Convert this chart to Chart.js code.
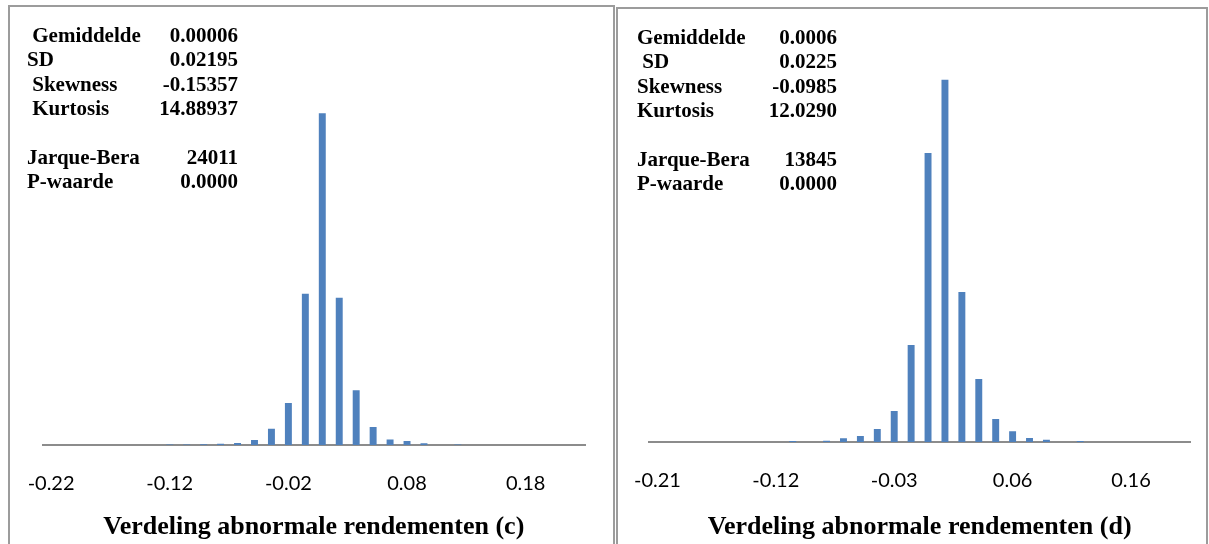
<!DOCTYPE html>
<html>
<head>
<meta charset="utf-8">
<script src="https://cdn.jsdelivr.net/npm/chart.js@4.4.1/dist/chart.umd.min.js"></script>
<style>
  html, body { margin: 0; padding: 0; background: #ffffff; }
  body { width: 1209px; height: 544px; position: relative; overflow: hidden; }
  .panel { position: absolute; box-sizing: border-box; border: 2px solid #9c9c9c; }
  #panelC { left: 8px; top: 5px; width: 607px; height: 560px; }
  #panelD { left: 616px; top: 7px; width: 592px; height: 560px; }
  canvas { position: absolute; left: 0; top: 0; }
</style>
</head>
<body>
<div class="panel" id="panelC"></div>
<div class="panel" id="panelD"></div>
<canvas id="chartC" width="1209" height="544"></canvas>
<canvas id="chartD" width="1209" height="544"></canvas>
<script>
// Histogram bins (bin labels) and frequencies, panel (c)
const binsC = ['-0.22','-0.21','-0.19','-0.18','-0.16','-0.15','-0.13','-0.12',
               '-0.11','-0.09','-0.08','-0.06','-0.05','-0.04','-0.02','-0.01',
               '0.01','0.02','0.04','0.05','0.06','0.08','0.09','0.11',
               '0.12','0.14','0.15','0.16','0.18','0.19','0.21','0.22'];
const countsC = [0, 0, 0, 0, 0, 0, 0, 3,
                 3, 4, 7, 10, 26, 85, 218, 787,
                 1726, 766, 285, 93, 28, 21, 9, 0,
                 3, 0, 0, 0, 0, 0, 0, 0];

// Histogram bins (bin labels) and frequencies, panel (d)
const binsD = ['-0.21','-0.20','-0.19','-0.17','-0.16','-0.15','-0.13','-0.12',
               '-0.11','-0.09','-0.08','-0.07','-0.05','-0.04','-0.03','-0.01',
               '0.00','0.01','0.02','0.04','0.05','0.06','0.08','0.09',
               '0.10','0.12','0.13','0.14','0.16','0.17','0.18','0.20'];
const countsD = [0, 0, 0, 0, 0, 0, 0, 0,
                 4, 0, 5, 14, 23, 50, 119, 373,
                 1112, 1393, 577, 242, 88, 41, 15, 9,
                 0, 4, 0, 0, 0, 0, 0, 0];

// Every 7th bin carries a label on the axis
const labelStep = 7;

// Descriptive statistics shown in each panel
const statNames = [' Gemiddelde', 'SD', ' Skewness', ' Kurtosis', '', 'Jarque-Bera', 'P-waarde'];
const statNamesD = ['Gemiddelde', ' SD', 'Skewness', 'Kurtosis', '', 'Jarque-Bera', 'P-waarde'];
const statsC = ['0.00006', '0.02195', '-0.15357', '14.88937', '', '24011', '0.0000'];
const statsD = ['0.0006', '0.0225', '-0.0985', '12.0290', '', '13845', '0.0000'];

const titleC = 'Verdeling abnormale rendementen (c)';
const titleD = 'Verdeling abnormale rendementen (d)';

const BAR_BLUE = '#4F81BD';
const AXIS_GREY = '#8c8c8c';

// Draws the statistics block in the upper-left corner of a panel
const statsBlock = {
  id: 'statsBlock',
  afterDraw(chart, args, o) {
    const ctx = chart.ctx;
    ctx.save();
    ctx.fillStyle = '#000';
    ctx.font = 'bold 21px "Liberation Serif", "Times New Roman", serif';
    ctx.textBaseline = 'alphabetic';
    o.names.forEach((name, i) => {
      const y = o.y0 + i * o.dy;
      ctx.textAlign = 'left';
      ctx.fillText(name, o.xName, y);
      ctx.textAlign = 'right';
      ctx.fillText(o.values[i], o.xValue, y);
    });
    ctx.restore();
  }
};

function histogram(id, bins, counts, title, opt) {
  return new Chart(document.getElementById(id), {
    type: 'bar',
    data: {
      labels: bins,
      datasets: [{
        data: counts,
        backgroundColor: BAR_BLUE,
        borderWidth: 0,
        barPercentage: 0.41,
        categoryPercentage: 1.0
      }]
    },
    options: {
      responsive: false,
      animation: false,
      events: [],
      layout: { padding: { left: opt.left, right: 1209 - opt.right, top: opt.top, bottom: 0 } },
      plugins: {
        legend: { display: false },
        tooltip: { enabled: false },
        statsBlock: opt.stats
      },
      scales: {
        x: {
          type: 'category',
          grid: { display: false, drawTicks: false },
          border: { display: true, color: AXIS_GREY, width: 2 },
          afterFit(scale) { scale.height = 544 - opt.base; },
          ticks: {
            autoSkip: false,
            maxRotation: 0,
            minRotation: 0,
            padding: opt.tickPad,
            color: '#000',
            font: { family: 'Lato, "Liberation Sans", sans-serif', size: 20 },
            callback(value, index) {
              return index % labelStep === 0 ? this.getLabelForValue(value) : '';
            }
          },
          title: {
            display: true,
            text: title,
            color: '#000',
            font: { family: '"Liberation Serif", "Times New Roman", serif', size: 26, weight: 'bold' },
            padding: { top: 0, bottom: opt.titlePad }
          }
        },
        y: {
          display: false,
          min: 0,
          max: opt.yMax
        }
      }
    },
    plugins: [statsBlock]
  });
}

histogram('chartC', binsC, countsC, titleC, {
  left: 40, right: 585, top: 22, base: 445, yMax: 2200, tickPad: 27, titlePad: 1,
  stats: { names: statNames, values: statsC, xName: 27, xValue: 238, y0: 42, dy: 24.4 }
});

histogram('chartD', binsD, countsD, titleD, {
  left: 649, right: 1191, top: 26, base: 442, yMax: 1600, tickPad: 27, titlePad: 1,
  stats: { names: statNamesD, values: statsD, xName: 637, xValue: 837, y0: 44, dy: 24.4 }
});
</script>
</body>
</html>
